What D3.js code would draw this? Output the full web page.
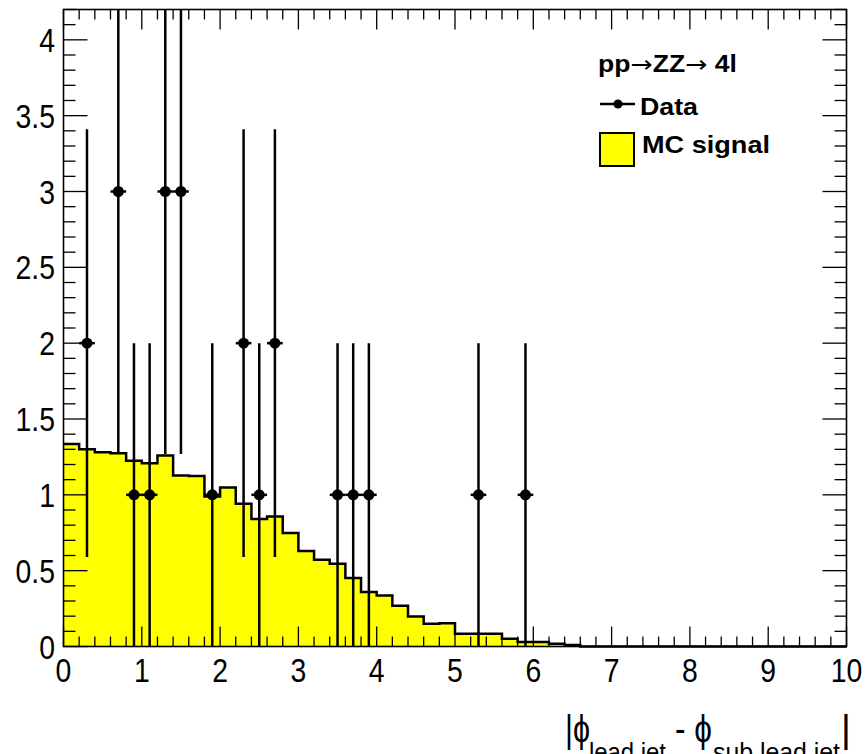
<!doctype html>
<html>
<head>
<meta charset="utf-8"/>
<style>
    html, body { margin: 0; padding: 0; background: #fff; }
    svg { display: block; }
    text { font-family: "Liberation Sans", Arial, Helvetica, sans-serif; fill: #000; }
</style>
<script src="https://d3js.org/d3.v7.min.js"></script>
</head>
<body>
<svg id="chart" width="865" height="754"></svg>
<script>

// MC signal histogram: 50 bins of width 0.2 from 0 to 10
var binWidth = 0.2;
var mcValues = [
    1.335, 1.30, 1.28, 1.275, 1.224, 1.209, 1.26, 1.128, 1.125, 0.989,
    1.048, 0.941, 0.84, 0.857, 0.748, 0.63, 0.572, 0.545, 0.451, 0.359,
    0.336, 0.268, 0.198, 0.150, 0.154, 0.084, 0.084, 0.084, 0.051, 0.029,
    0.029, 0.018, 0.01, 0, 0, 0, 0, 0, 0, 0,
    0, 0, 0, 0, 0, 0, 0, 0, 0, 0
];

// Data points (bin centres), counts and errors
var dataX   = [0.3, 0.7, 0.9, 1.1, 1.3, 1.5, 1.9, 2.3, 2.5, 2.7, 3.5, 3.7, 3.9, 5.3, 5.9];
var dataY   = [2,   3,   1,   1,   3,   3,   1,   2,   1,   2,   1,   1,   1,   1,   1];
var dataErr = [1.41, 1.73, 1, 1, 1.73, 1.73, 1, 1.41, 1, 1.41, 1, 1, 1, 1, 1];

var xTicks = [0, 1, 2, 3, 4, 5, 6, 7, 8, 9, 10];
var yTicks = [0, 0.5, 1, 1.5, 2, 2.5, 3, 3.5, 4];
var yTickLabels = ["0", "0.5", "1", "1.5", "2", "2.5", "3", "3.5", "4"];

var svg = d3.select("#chart");

var frameL = 63.5, frameR = 846.5, frameT = 9.5, frameB = 646.5;
var x = d3.scaleLinear().domain([0, 10]).range([frameL, frameR]);
var y = d3.scaleLinear().domain([0, 4.2]).range([frameB, frameT]);

// histogram as a step path
var bins = mcValues.map(function(v, i) { return {x0: i * binWidth, x1: (i + 1) * binWidth, v: v}; });
var pts = [[x(0), y(0)]];
bins.forEach(function(b) {
    pts.push([x(b.x0), y(b.v)]);
    pts.push([x(b.x1), y(b.v)]);
});
pts.push([x(10), y(0)]);
var line = d3.line();

svg.append("path")
    .attr("d", line(pts) + "Z")
    .attr("fill", "#ffff00")
    .attr("stroke", "none");

svg.append("path")
    .attr("d", line(pts.slice(1)))
    .attr("fill", "none")
    .attr("stroke", "#000")
    .attr("stroke-width", 2.5);

// frame
svg.append("rect")
    .attr("x", frameL).attr("y", frameT)
    .attr("width", frameR - frameL).attr("height", frameB - frameT)
    .attr("fill", "none").attr("stroke", "#000").attr("stroke-width", 1.6);

// ticks on all four sides
var g = svg.append("g").attr("stroke", "#000").attr("stroke-width", 1.3);
d3.range(0, 51).forEach(function(i) {
    var v = i * 0.2, len = (i % 5 === 0) ? 20 : 10;
    g.append("line").attr("x1", x(v)).attr("x2", x(v)).attr("y1", frameB).attr("y2", frameB - len);
    g.append("line").attr("x1", x(v)).attr("x2", x(v)).attr("y1", frameT).attr("y2", frameT + len);
});
d3.range(0, 43).forEach(function(i) {
    var v = i * 0.1, len = (i % 5 === 0) ? 24 : 12;
    g.append("line").attr("x1", frameL).attr("x2", frameL + len).attr("y1", y(v)).attr("y2", y(v));
    g.append("line").attr("x1", frameR).attr("x2", frameR - len).attr("y1", y(v)).attr("y2", y(v));
});

// tick labels (condensed like the original)
xTicks.forEach(function(t) {
    svg.append("g")
        .attr("transform", "translate(" + x(t) + ",682) scale(0.86,1)")
        .append("text")
        .attr("text-anchor", "middle")
        .attr("font-size", 33)
        .text(t);
});
yTicks.forEach(function(t, i) {
    svg.append("g")
        .attr("transform", "translate(55," + (y(t) + 12) + ") scale(0.86,1)")
        .append("text")
        .attr("text-anchor", "end")
        .attr("font-size", 33)
        .text(yTickLabels[i]);
});

// data points
var dg = svg.append("g");
dataX.forEach(function(d, i) {
    var cx = x(d), cy = y(dataY[i]);
    var hi = Math.min(dataY[i] + dataErr[i], 4.2), lo = Math.max(dataY[i] - dataErr[i], 0);
    dg.append("line").attr("x1", cx).attr("x2", cx).attr("y1", y(lo)).attr("y2", y(hi))
        .attr("stroke", "#000").attr("stroke-width", 2.5);
    dg.append("line").attr("x1", x(d - binWidth / 2)).attr("x2", x(d + binWidth / 2)).attr("y1", cy).attr("y2", cy)
        .attr("stroke", "#000").attr("stroke-width", 2.5);
    dg.append("circle").attr("cx", cx).attr("cy", cy).attr("r", 5.5).attr("fill", "#000");
});

// legend
var title = svg.append("text").attr("x", 598).attr("y", 71.5)
    .attr("font-size", 23).attr("font-weight", "bold")
    .attr("textLength", 139).attr("lengthAdjust", "spacingAndGlyphs");
title.append("tspan").text("pp");
title.append("tspan").attr("font-family", "DejaVu Sans").attr("font-weight", "normal").text("\u2192");
title.append("tspan").text("ZZ");
title.append("tspan").attr("font-family", "DejaVu Sans").attr("font-weight", "normal").text("\u2192");
title.append("tspan").text(" 4l");

svg.append("line").attr("x1", 600).attr("x2", 635).attr("y1", 104).attr("y2", 104)
    .attr("stroke", "#000").attr("stroke-width", 2.5);
svg.append("circle").attr("cx", 618).attr("cy", 104).attr("r", 4.5).attr("fill", "#000");
svg.append("text").attr("x", 640).attr("y", 115)
    .attr("font-size", 24).attr("font-weight", "bold")
    .attr("textLength", 58).attr("lengthAdjust", "spacingAndGlyphs")
    .text("Data");
svg.append("rect").attr("x", 600).attr("y", 133).attr("width", 34).attr("height", 33)
    .attr("fill", "#ffff00").attr("stroke", "#000").attr("stroke-width", 2);
svg.append("text").attr("x", 642).attr("y", 153)
    .attr("font-size", 24).attr("font-weight", "bold")
    .attr("textLength", 128).attr("lengthAdjust", "spacingAndGlyphs")
    .text("MC signal");

// x axis title
var tg = svg.append("g");
tg.append("text").attr("x", 565).attr("y", 742).attr("font-size", 38)
    .attr("textLength", 25).attr("lengthAdjust", "spacingAndGlyphs").text("|\u03D5");
tg.append("text").attr("x", 589).attr("y", 761).attr("font-size", 25)
    .attr("textLength", 77).attr("lengthAdjust", "spacingAndGlyphs").text("lead  jet");
tg.append("text").attr("x", 675).attr("y", 742).attr("font-size", 38)
    .attr("textLength", 37).attr("lengthAdjust", "spacingAndGlyphs").text("- \u03D5");
tg.append("text").attr("x", 713).attr("y", 761).attr("font-size", 25)
    .attr("textLength", 127).attr("lengthAdjust", "spacingAndGlyphs").text("sub  lead  jet");
tg.append("text").attr("x", 841).attr("y", 742).attr("font-size", 38)
    .text("|");

</script>
</body>
</html>
